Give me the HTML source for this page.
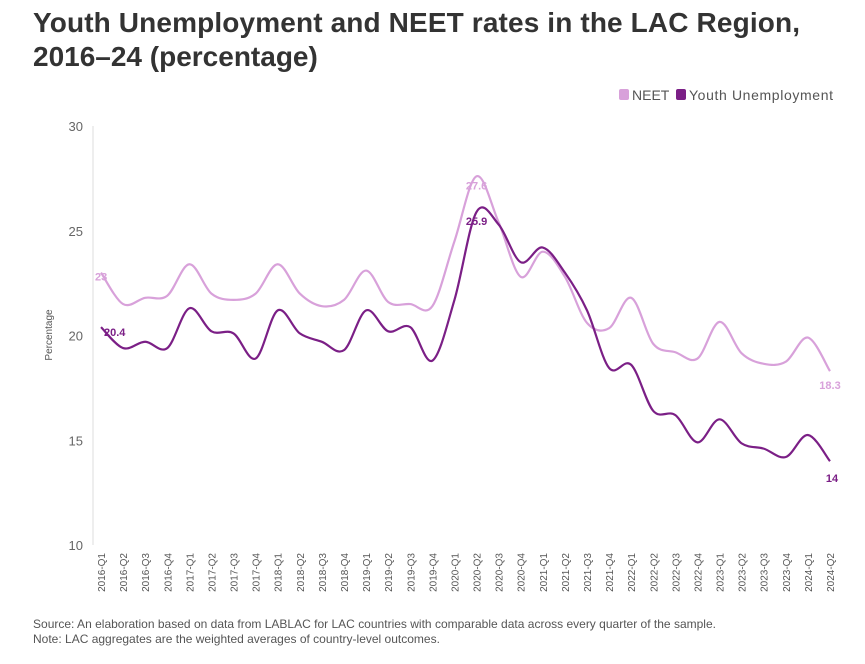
<!DOCTYPE html>
<html><head><meta charset="utf-8"><style>
body{margin:0;background:#fff;width:865px;height:659px;overflow:hidden;font-family:"Liberation Sans",sans-serif}
</style></head><body>
<svg width="865" height="659" xmlns="http://www.w3.org/2000/svg">
<text x="33" y="32" font-size="28" font-weight="bold" fill="#333" textLength="767">Youth Unemployment and NEET rates in the LAC Region,</text>
<text x="33" y="66" font-size="28" font-weight="bold" fill="#333">2016–24 (percentage)</text>
<g>
<rect x="619" y="89" width="10" height="11" rx="2" fill="#d8a1da"/>
<text x="632" y="100" font-size="14" fill="#555">NEET</text>
<rect x="676" y="89" width="10" height="11" rx="2" fill="#7b1f86"/>
<text x="689" y="100" font-size="14" fill="#555" textLength="144">Youth Unemployment</text>
</g>
<line x1="93" y1="126" x2="93" y2="545" stroke="#ddd"/>
<g id="yt"></g><g id="xt"></g><g id="lines"></g>
<text transform="translate(52,335) rotate(-90)" font-size="10" fill="#555" text-anchor="middle">Percentage</text>
<text x="33" y="628" font-size="12" fill="#555" textLength="683">Source: An elaboration based on data from LABLAC for LAC countries with comparable data across every quarter of the sample.</text>
<text x="33" y="643" font-size="12" fill="#555">Note: LAC aggregates are the weighted averages of country-level outcomes.</text>
</svg>
<script>
const categories=["2016-Q1","2016-Q2","2016-Q3","2016-Q4","2017-Q1","2017-Q2","2017-Q3","2017-Q4","2018-Q1","2018-Q2","2018-Q3","2018-Q4","2019-Q1","2019-Q2","2019-Q3","2019-Q4","2020-Q1","2020-Q2","2020-Q3","2020-Q4","2021-Q1","2021-Q2","2021-Q3","2021-Q4","2022-Q1","2022-Q2","2022-Q3","2022-Q4","2023-Q1","2023-Q2","2023-Q3","2023-Q4","2024-Q1","2024-Q2"];
const neet=[23,21.5,21.8,21.9,23.4,22.0,21.7,22.0,23.4,22.0,21.4,21.7,23.1,21.6,21.5,21.4,24.5,27.6,25.4,22.8,24.0,22.8,20.6,20.35,21.8,19.6,19.2,18.9,20.65,19.15,18.65,18.75,19.9,18.3];
const youth=[20.4,19.4,19.7,19.4,21.3,20.2,20.1,18.9,21.2,20.1,19.7,19.3,21.2,20.2,20.4,18.8,21.7,25.9,25.3,23.5,24.2,23.0,21.2,18.45,18.6,16.4,16.2,14.9,16.0,14.85,14.6,14.2,15.25,14];
const yTicks=[10,15,20,25,30];
const NS="http://www.w3.org/2000/svg";
const x=i=>101+i*(830-101)/(categories.length-1);
const y=v=>545-(v-10)*(545-126)/20;
function mk(t,a,p){const e=document.createElementNS(NS,t);for(const k in a)e.setAttribute(k,a[k]);p.appendChild(e);return e;}
const yt=document.getElementById('yt');
yTicks.forEach(v=>{const t=mk('text',{x:83,y:y(v)+5,'font-size':13,fill:'#666','text-anchor':'end'},yt);t.textContent=v;

});
const xt=document.getElementById('xt');
categories.forEach((c,i)=>{const t=mk('text',{transform:`translate(${x(i)+4},553) rotate(-90)`,'font-size':10,fill:'#555','text-anchor':'end'},xt);t.textContent=c;

});
function path(vals){const p=vals.map((v,i)=>[x(i),y(v)]);let d=`M${p[0][0]},${p[0][1]}`;
for(let i=0;i<p.length-1;i++){const p0=p[i-1]||p[i],p1=p[i],p2=p[i+1],p3=p[i+2]||p2;
d+=` C${p1[0]+(p2[0]-p0[0])/6},${p1[1]+(p2[1]-p0[1])/6} ${p2[0]-(p3[0]-p1[0])/6},${p2[1]-(p3[1]-p1[1])/6} ${p2[0]},${p2[1]}`;}return d;}
const g=document.getElementById('lines');
const l1=mk('path',{d:path(neet),fill:'none',stroke:'#d8a1da','stroke-width':2.2},g);


const l2=mk('path',{d:path(youth),fill:'none',stroke:'#7b1f86','stroke-width':2.2},g);


function lab(txt,i,v,col,dx,dy,anc){const t=mk('text',{x:x(i)+dx,y:y(v)+dy,'font-size':11,'font-weight':'bold',fill:col,'text-anchor':anc},g);t.textContent=txt;

}
const n=categories.length-1;
lab(neet[0],0,neet[0],'#d8a1da',-6,8,'start');
lab(youth[0],0,youth[0],'#7b1f86',3,9,'start');
lab(neet[17],17,neet[17],'#d8a1da',0,13,'middle');
lab(youth[17],17,youth[17],'#7b1f86',0,13,'middle');
lab(neet[n],n,neet[n],'#d8a1da',0,18,'middle');
lab(youth[n],n,youth[n],'#7b1f86',2,21,'middle');
</script>
</body></html>
